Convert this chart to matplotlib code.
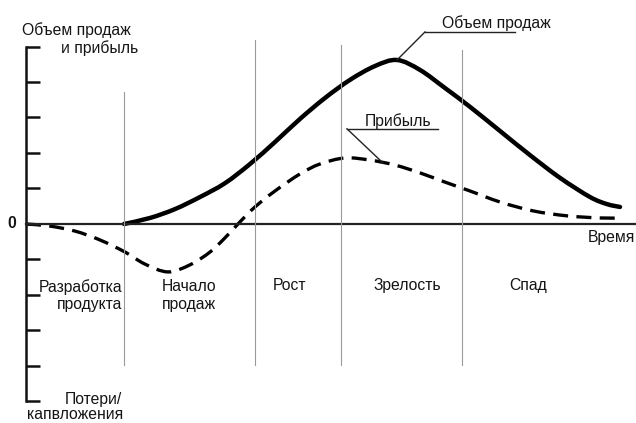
import matplotlib
matplotlib.use("Agg")
import matplotlib.pyplot as plt
from matplotlib.path import Path
from matplotlib.patches import PathPatch

plt.rcParams['font.family'] = ['Liberation Sans', 'DejaVu Sans']

# time axis and curve values (y in tick units, 0 = break-even)
sales_t = [98, 124, 149, 174, 199, 224, 249, 274, 299, 324, 349, 371,
           394, 419, 444, 474, 504, 534, 564, 581, 594]
sales_v = [0.0, 0.17, 0.42, 0.76, 1.15, 1.69, 2.31, 2.96, 3.55, 4.06, 4.45,
           4.62, 4.34, 3.83, 3.30, 2.62, 1.94, 1.30, 0.76, 0.56, 0.48]

profit_t = [0, 24, 49, 74, 99, 119, 142, 164, 184, 199, 214, 229, 249, 274,
            294, 319, 344, 369, 394, 419, 444, 474, 507, 541, 574, 597]
profit_v = [0.0, -0.06, -0.20, -0.45, -0.79, -1.13, -1.35, -1.15, -0.79,
            -0.39, 0.06, 0.48, 0.93, 1.41, 1.69, 1.86, 1.80, 1.66, 1.44,
            1.18, 0.93, 0.62, 0.37, 0.23, 0.17, 0.17]

# stage boundaries and stage names
bounds_t = [98, 229, 315, 436]
bounds_top = [3.72, 5.18, 5.04, 4.9]
stages = ["Рост", "Зрелость", "Спад"]
stages_t = [264, 381, 502]

ticks = [-5, -4, -3, -2, -1, 0, 1, 2, 3, 4, 5]


def smooth_path(xs, ys):
    # catmull-rom style cubic bezier, passes through every data point
    pts = list(zip(xs, ys))
    n = len(pts)
    verts = [pts[0]]
    codes = [Path.MOVETO]
    for i in range(n - 1):
        p0 = pts[max(i - 1, 0)]
        p1 = pts[i]
        p2 = pts[i + 1]
        p3 = pts[min(i + 2, n - 1)]
        c1 = (p1[0] + (p2[0] - p0[0]) / 6, p1[1] + (p2[1] - p0[1]) / 6)
        c2 = (p2[0] - (p3[0] - p1[0]) / 6, p2[1] - (p3[1] - p1[1]) / 6)
        verts += [c1, c2, p2]
        codes += [Path.CURVE4] * 3
    return Path(verts, codes)


fig = plt.figure(figsize=(6.36, 4.23), dpi=100)
ax = fig.add_axes([0, 0, 1, 1])
ax.set_xlim(-26, 610)
ax.set_ylim(-5.606, 6.31)
ax.axis("off")

txt = dict(fontsize=11.3, color="#151515")

# axes
ax.plot([0, 0], [-5, 5], color="#111111", lw=1.8)
ax.hlines(ticks, 0, 14, color="#111111", lw=1.8)
ax.plot([0, 610], [0, 0], color="#222222", lw=1.6)

# stage dividers
for t, top in zip(bounds_t, bounds_top):
    ax.plot([t, t], [-3.97, top], color="#9a9a9a", lw=0.8)

# curves
ax.add_patch(PathPatch(smooth_path(sales_t, sales_v), fill=False,
                       color="black", lw=3.2, capstyle="round",
                       joinstyle="round"))
ax.add_patch(PathPatch(smooth_path(profit_t, profit_v), fill=False,
                       color="black", lw=2.4, linestyle=(0, (4.5, 2.5))))

# callouts
ax.plot([399, 489], [5.41, 5.41], color="#222222", lw=1.0)
ax.plot([399, 371], [5.41, 4.62], color="#222222", lw=1.0)
ax.text(416, 5.66, "Объем продаж", ha="left", va="center", **txt)

ax.plot([321, 412], [2.68, 2.68], color="#222222", lw=1.0)
ax.plot([321, 357], [2.68, 1.72], color="#222222", lw=1.0)
ax.text(339, 2.90, "Прибыль", ha="left", va="center", **txt)

# axis labels
ax.text(-4, 5.46, "Объем продаж", ha="left", va="center", **txt)
ax.text(112, 4.96, "и прибыль", ha="right", va="center", **txt)
ax.text(-14, 0, "0", ha="center", va="center", fontweight="bold", **txt)
ax.text(562, -0.37, "Время", ha="left", va="center", **txt)
ax.text(96, -4.94, "Потери/", ha="right", va="center", **txt)
ax.text(1, -5.36, "капвложения", ha="left", va="center", **txt)

# stage labels
ax.text(96, -1.77, "Разработка", ha="right", va="center", **txt)
ax.text(96, -2.28, "продукта", ha="right", va="center", **txt)
ax.text(163, -1.77, "Начало", ha="center", va="center", **txt)
ax.text(163, -2.28, "продаж", ha="center", va="center", **txt)
for t, name in zip(stages_t, stages):
    ax.text(t, -1.72, name, ha="center", va="center", **txt)

fig.savefig("out.png", dpi=100)
